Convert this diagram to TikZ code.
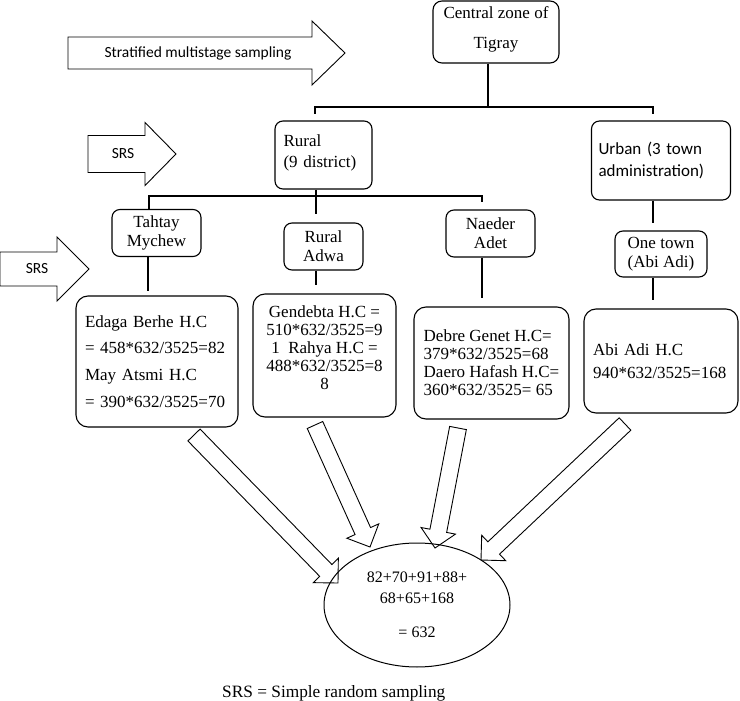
\documentclass[tikz,border=0pt]{standalone}
\usepackage{fontspec}
\setmainfont{Liberation Serif}
\newfontfamily\carl{Carlito}
\usetikzlibrary{calc,shapes.geometric}
\tikzset{
 box/.style={draw, line width=1.1pt, rounded corners=8pt, fill=white, inner sep=0pt, align=center},
 conn/.style={line width=1.3pt},
 blockar/.style={draw, line width=0.9pt, fill=white, line join=miter},
 sanslbl/.style={inner sep=0pt, font=\carl\fontsize{15.5}{18}\selectfont},
}
\newcommand{\blockarrow}[5]{%
 \coordinate (hb) at ($(#2)!#5!(#1)$);
 \draw[blockar] ($(#1)!#3!90:(#2)$) -- ($(hb)!#3!90:(#2)$) -- ($(hb)!#4!90:(#2)$) -- (#2)
   -- ($(hb)!#4!-90:(#2)$) -- ($(hb)!#3!-90:(#2)$) -- ($(#1)!#3!-90:(#2)$) -- cycle;}
\begin{document}
\begin{tikzpicture}[x=1pt,y=-1pt]
\useasboundingbox (0,0) rectangle (740,701);

% horizontal block arrows
\coordinate (sa) at (68,53);  \coordinate (sb) at (345,53);
\coordinate (s1a) at (88,154); \coordinate (s1b) at (176,154);
\coordinate (s2a) at (0,269);  \coordinate (s2b) at (89,269);
\blockarrow{sa}{sb}{16pt}{32pt}{33pt}
\blockarrow{s1a}{s1b}{18.5pt}{31.5pt}{31pt}
\blockarrow{s2a}{s2b}{17pt}{32pt}{32pt}
\node[sanslbl] (strat) at (198,53) {Stratified multistage sampling};
\node[sanslbl] (srs1) at (123,154) {SRS};
\node[sanslbl] (srs2) at (37,269) {SRS};

% block arrows to the total
\coordinate (a1s) at (194,435); \coordinate (a1e) at (338,583);
\coordinate (a2s) at (315,425); \coordinate (a2e) at (370,547);
\coordinate (a3s) at (458,428); \coordinate (a3e) at (435,548);
\coordinate (a4s) at (625,424); \coordinate (a4e) at (481,560);
\blockarrow{a1s}{a1e}{8.5pt}{17.5pt}{17.5pt}
\blockarrow{a2s}{a2e}{8.5pt}{17.5pt}{17.5pt}
\blockarrow{a3s}{a3e}{8.5pt}{17.5pt}{17.5pt}
\blockarrow{a4s}{a4e}{8.5pt}{17.5pt}{17.5pt}

% boxes
\node[box, rounded corners=9pt, minimum width=126pt, minimum height=62pt,
  font=\fontsize{17}{30}\selectfont] (central) at (496,32) {\mbox{}\\[-24pt]Central zone of\\Tigray};
\node[box, minimum width=97pt, minimum height=68pt, text width=80pt, align=left,
  font=\fontsize{17}{21}\selectfont] (rural) at (323.5,155) {\mbox{}\\[-13pt]Rural\\(9 district)};
\node[box, minimum width=139pt, minimum height=79pt, text width=125pt, align=left,
  font=\carl\fontsize{17}{22}\selectfont] (urban) at (661,160.5) {Urban (3 town\\administration)};
\node[box, minimum width=89pt, minimum height=47pt,
  font=\fontsize{17}{19}\selectfont] (tahtay) at (156.5,233) {Tahtay\\Mychew};
\node[box, minimum width=79pt, minimum height=47pt,
  font=\fontsize{17}{19}\selectfont] (ruraladwa) at (323.5,246.5) {Rural\\Adwa};
\node[box, minimum width=89pt, minimum height=47pt,
  font=\fontsize{17}{19}\selectfont] (naeder) at (490.5,233.5) {Naeder\\Adet};
\node[box, minimum width=92pt, minimum height=46pt,
  font=\fontsize{17}{19}\selectfont] (onetown) at (661,254) {One town\\(Abi Adi)};
\node[box, rounded corners=12pt, minimum width=162pt, minimum height=131pt, text width=144pt, align=left,
  font=\fontsize{17}{26.7}\selectfont] (edaga) at (157,361.5)
  {Edaga Berhe H.C\\= 458*632/3525=82\\May Atsmi H.C\\= 390*632/3525=70};
\node[box, rounded corners=12pt, minimum width=143pt, minimum height=123pt,
  font=\fontsize{17}{18}\selectfont] (gendebta) at (324.5,355.5)
  {Gendebta H.C =\\510*632/3525=9\\1\ \ Rahya H.C =\\488*632/3525=8\\8\\[-2pt]\mbox{}};
\node[box, rounded corners=12pt, minimum width=155pt, minimum height=112pt, align=left,
  font=\fontsize{17}{18}\selectfont] (debre) at (491.5,363)
  {Debre Genet H.C=\\379*632/3525=68\\Daero Hafash H.C=\\360*632/3525= 65};
\node[box, rounded corners=12pt, minimum width=154pt, minimum height=104pt, text width=136pt, align=left,
  font=\fontsize{17}{23}\selectfont] (abiadi) at (661,361)
  {Abi Adi H.C\\940*632/3525=168};

% total
\node[draw, ellipse, line width=1pt, minimum width=186pt, minimum height=124pt, inner sep=0pt,
  align=center, font=\fontsize{16}{21}\selectfont] (total) at (417,605)
  {82+70+91+88+\\68+65+168\\[13pt]= 632};

\node[anchor=base west, inner sep=0pt, font=\fontsize{17.3}{20}\selectfont] (legend) at (222,697)
  {SRS = Simple random sampling};

% connectors
\coordinate (c0) at (488,107);
\coordinate (b1L) at (315,107); \coordinate (t1L) at (315,114);
\coordinate (b1R) at (653,107); \coordinate (t1R) at (653,114);
\draw[conn, line width=1.8pt] (central.south -| c0) -- (c0);
\draw[conn] (t1L) -- (b1L) -- (b1R) -- (t1R);

\coordinate (r2) at (316,214);
\coordinate (b2L) at (149,196); \coordinate (b2R) at (482,196); \coordinate (t2R) at (482,202);
\draw[conn] (rural.south -| r2) -- (r2);
\draw[conn] (tahtay.north -| b2L) -- (b2L) -- (b2R) -- (t2R);

\coordinate (v1) at (148,291);
\coordinate (v2) at (316,285);
\coordinate (v3) at (482,298);
\coordinate (v4) at (653,223);
\coordinate (v5) at (653,300);
\draw[conn] (tahtay.south -| v1) -- (v1);
\draw[conn] (ruraladwa.south -| v2) -- (v2);
\draw[conn] (naeder.south -| v3) -- (v3);
\draw[conn] (urban.south -| v4) -- (v4);
\draw[conn] (onetown.south -| v5) -- (v5);
\end{tikzpicture}
\end{document}
